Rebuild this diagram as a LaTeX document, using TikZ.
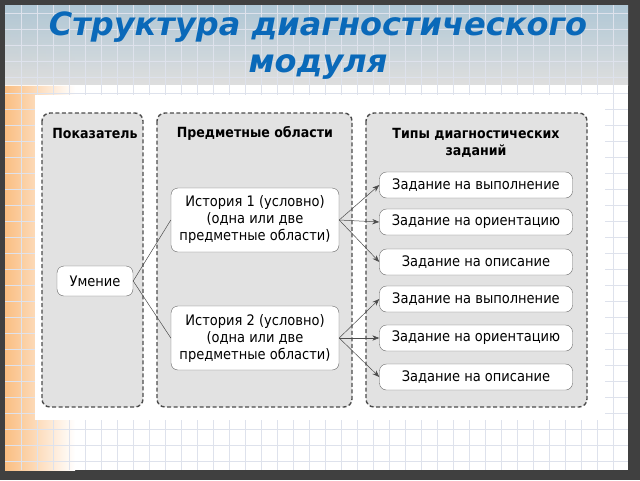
\documentclass[tikz,border=0pt]{standalone}
\usepackage{fontspec}
\setmainfont{DejaVu Sans Condensed}
\newfontfamily\titlefont{DejaVu Sans}
\usetikzlibrary{arrows.meta,positioning}
\definecolor{titleblue}{RGB}{10,105,185}
\definecolor{colgray}{RGB}{226,226,226}
\definecolor{gridline}{RGB}{222,226,236}
\definecolor{orangeside}{RGB}{250,190,130}
\definecolor{headblue}{RGB}{200,228,245}
\tikzset{
  column/.style={draw=black!70,dash pattern=on 4pt off 2.5pt,line width=1.4pt,rounded corners=8pt,fill=colgray},
  item/.style={draw=black!60,rounded corners=7pt,fill=white,align=center,font=\fontsize{14.5}{17}\selectfont},
  task/.style={item,minimum width=193pt,minimum height=26pt,inner ysep=1pt},
  head/.style={font=\fontsize{14}{17}\selectfont\bfseries,align=center},
  link/.style={black!70,line width=0.5pt},
  pointer/.style={link,-{Stealth[length=7pt]}}
}
\begin{document}
\begin{tikzpicture}[x=1pt,y=-1pt]
\useasboundingbox (0,0) rectangle (640,480);
\fill[black!75] (0,0) rectangle (640,480);
\fill[white] (5,5) rectangle (628,470);
% paper
\fill[left color=orangeside,right color=white] (5,5) rectangle (75,470);
\fill[top color=headblue,bottom color=white,opacity=0.85] (5,5) rectangle (628,85);
\foreach \gx in {21,37,...,628} \draw[gridline,line width=0.5pt] (\gx,5) -- (\gx,470);
\foreach \gy in {13,29,...,470} \draw[gridline,line width=0.5pt] (5,\gy) -- (628,\gy);
\node[font=\titlefont\fontsize{32}{37}\selectfont\bfseries\itshape,text=titleblue,align=center] (title) at (318,46) {Структура диагностического\\модуля};
\fill[white] (35,95) rectangle (605,420);

% columns
\draw[column] (42,113) rectangle (143,407);
\draw[column] (157,113) rectangle (352,407);
\draw[column] (366,113) rectangle (587,407);
\node[head] (h1) at (95,133) {Показатель};
\node[head] (h2) at (255,133) {Предметные области};
\node[head] (h3) at (476,143) {Типы диагностических\\заданий};

\node[item,minimum width=76pt,minimum height=30pt] (skill) at (95,281) {Умение};
\node[item,minimum width=168pt,minimum height=64pt,inner sep=1pt] (hist1) at (255,220) {История 1 (условно)\\(одна или две\\предметные области)};
\node[item,minimum width=168pt,minimum height=64pt,inner sep=1pt] (hist2) at (255,338) {История 2 (условно)\\(одна или две\\предметные области)};

\node[task] (t1) at (476,185) {Задание на выполнение};
\node[task] (t2) at (476,222) {Задание на ориентацию};
\node[task] (t3) at (476,262) {Задание на описание};
\node[task] (t4) at (476,299) {Задание на выполнение};
\node[task] (t5) at (476,338) {Задание на ориентацию};
\node[task] (t6) at (476,377) {Задание на описание};

\draw[link] (skill.east) -- (hist1.west);
\draw[link] (skill.east) -- (hist2.west);
\foreach \t in {t1,t2,t3} \draw[pointer] (hist1.east) -- (\t.west);
\foreach \t in {t4,t5,t6} \draw[pointer] (hist2.east) -- (\t.west);
\end{tikzpicture}
\end{document}
